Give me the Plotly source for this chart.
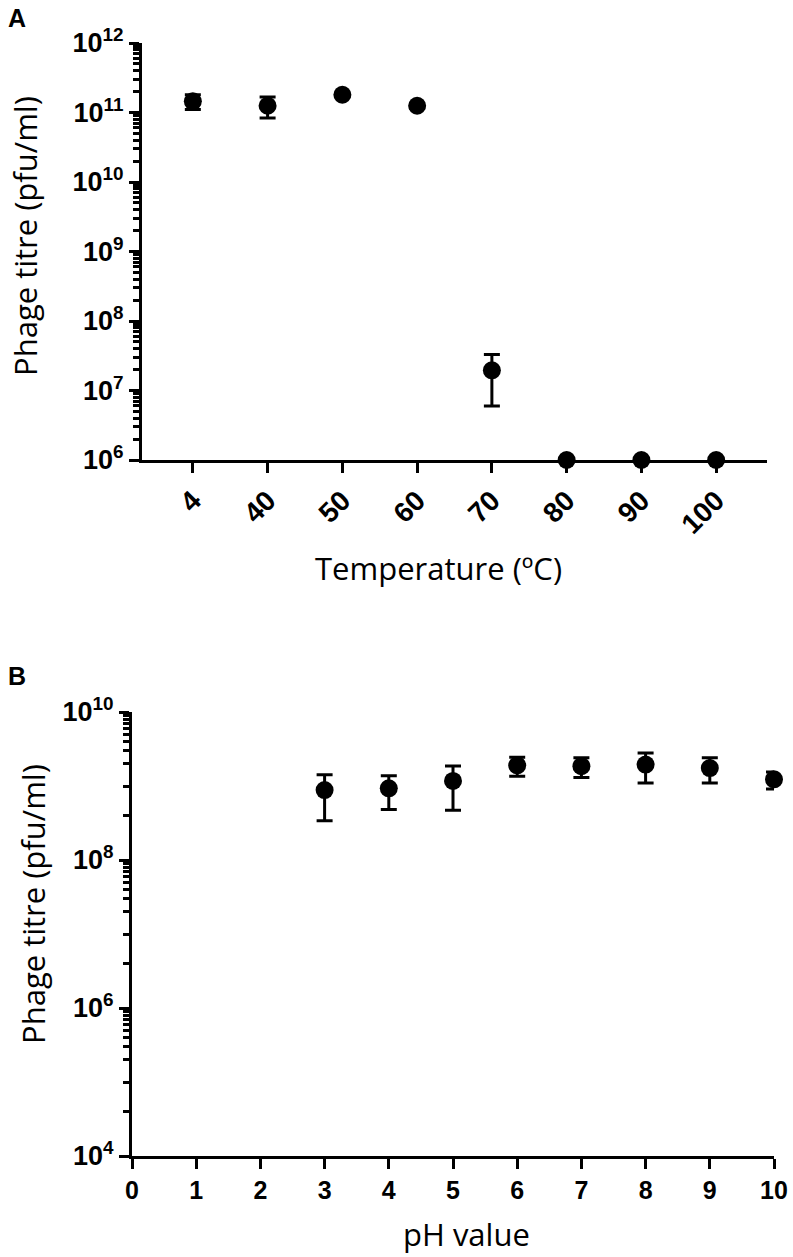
import plotly.graph_objects as go

# ---------------- data ----------------
# Panel A: temperature stability
temp_labels = ["4", "40", "50", "60", "70", "80", "90", "100"]
temp_titre = [1.45e11, 1.25e11, 1.8e11, 1.25e11, 1.95e7, 1e6, 1e6, 1e6]
temp_sd = [0.35e11, 0.42e11, 0.1e11, 0.1e11, 1.35e7, 0, 0, 0]

# Panel B: pH stability
ph_values = [3, 4, 5, 6, 7, 8, 9, 10]
ph_titre = [8.8e8, 9.3e8, 1.17e9, 1.9e9, 1.85e9, 1.95e9, 1.75e9, 1.23e9]
ph_sd = [5.4e8, 4.5e8, 7.0e8, 5.5e8, 5.5e8, 8.5e8, 6.5e8, 3.2e8]

# tick labels
a_y_exps = [6, 7, 8, 9, 10, 11, 12]
b_y_exps = [4, 6, 8, 10]
b_x_ticks = [0, 1, 2, 3, 4, 5, 6, 7, 8, 9, 10]

W, H = 793, 1257
BLACK = "#000000"
XTICKFONT_A = dict(family="Liberation Sans, Arial", size=28, color=BLACK, weight="bold")
TICKFONT = dict(family="Liberation Sans, Arial", size=25, color=BLACK, weight="bold")
YTICKFONT = dict(family="Liberation Sans, Arial", size=27, color=BLACK, weight="bold")
TITLEFONT = dict(family="Open Sans", size=31, color=BLACK)


def px_x(p):
    return p / W


def px_y(p):
    return 1 - p / H


fig = go.Figure()

marker = dict(symbol="circle", size=18, color=BLACK)
err_style = dict(type="data", symmetric=True, color=BLACK, thickness=3, width=8, visible=True)

fig.add_trace(go.Scatter(
    x=temp_labels, y=temp_titre, mode="markers", marker=marker,
    error_y=dict(array=temp_sd, **err_style), cliponaxis=False,
    xaxis="x", yaxis="y", showlegend=False))

fig.add_trace(go.Scatter(
    x=ph_values, y=ph_titre, mode="markers", marker=marker,
    error_y=dict(array=ph_sd, **err_style), cliponaxis=False,
    xaxis="x2", yaxis="y2", showlegend=False))

# minor tick positions (log axes)
a_minor = [k * 10 ** n for n in range(6, 12) for k in range(2, 10)]
b_minor = []
for n in (4, 6, 8):
    b_minor.append(4 * 10 ** n)
    b_minor += [k * 10 ** (n + 1) for k in range(1, 10)]

axis_common = dict(showline=True, linecolor=BLACK, linewidth=3, showgrid=False,
                   zeroline=False, ticks="outside", tickcolor=BLACK, tickwidth=3,
                   ticklen=10)

fig.update_layout(
    width=W, height=H, autosize=False,
    margin=dict(l=0, r=0, t=0, b=0, autoexpand=False),
    plot_bgcolor="white", paper_bgcolor="white",
    xaxis=dict(domain=[px_x(142), px_x(767)], anchor="y", type="category",
               range=[-0.68, 7.68], tickangle=-45, tickfont=XTICKFONT_A, **axis_common),
    yaxis=dict(domain=[px_y(460), px_y(43)], anchor="x", type="log", range=[5.99999, 12],
               tickmode="array", tickvals=[10 ** e for e in a_y_exps],
               ticktext=["10<sup>%d</sup>" % e for e in a_y_exps], tickfont=YTICKFONT,
               minor=dict(tickmode="array", tickvals=a_minor, ticks="outside",
                          ticklen=6, tickwidth=2.5, tickcolor=BLACK, showgrid=False),
               **axis_common),
    xaxis2=dict(domain=[px_x(132), px_x(774)], anchor="y2", range=[0, 10],
                tickmode="array", tickvals=b_x_ticks, tickfont=TICKFONT, **axis_common),
    yaxis2=dict(domain=[px_y(1156), px_y(712)], anchor="x2", type="log", range=[4, 10],
                tickmode="array", tickvals=[10 ** e for e in b_y_exps],
                ticktext=["10<sup>%d</sup>" % e for e in b_y_exps], tickfont=YTICKFONT,
                minor=dict(tickmode="array", tickvals=b_minor, ticks="outside",
                           ticklen=6, tickwidth=2.5, tickcolor=BLACK, showgrid=False),
                **axis_common),
)

annotations = [
    dict(text="<b>A</b>", x=px_x(17), y=px_y(18), xanchor="center", yanchor="middle",
         font=dict(family="Liberation Sans, Arial", size=25, color=BLACK)),
    dict(text="<b>B</b>", x=px_x(17), y=px_y(676), xanchor="center", yanchor="middle",
         font=dict(family="Liberation Sans, Arial", size=25, color=BLACK)),
    dict(text="Phage titre (pfu/ml)", x=px_x(25), y=px_y(236), textangle=-90,
         xanchor="center", yanchor="middle", font=TITLEFONT),
    dict(text="Phage titre (pfu/ml)", x=px_x(33), y=px_y(904), textangle=-90,
         xanchor="center", yanchor="middle", font=TITLEFONT),
    dict(text="Temperature (ºC)", x=px_x(438), y=px_y(568), xanchor="center",
         yanchor="middle", font=TITLEFONT),
    dict(text="pH value", x=px_x(466), y=px_y(1234), xanchor="center",
         yanchor="middle", font=TITLEFONT),
]
for a in annotations:
    a.update(xref="paper", yref="paper", showarrow=False)
fig.update_layout(annotations=annotations)

fig.write_html("out.html", config={"displayModeBar": False},
               post_script="document.body.style.margin='0';document.body.style.overflow='hidden';")
